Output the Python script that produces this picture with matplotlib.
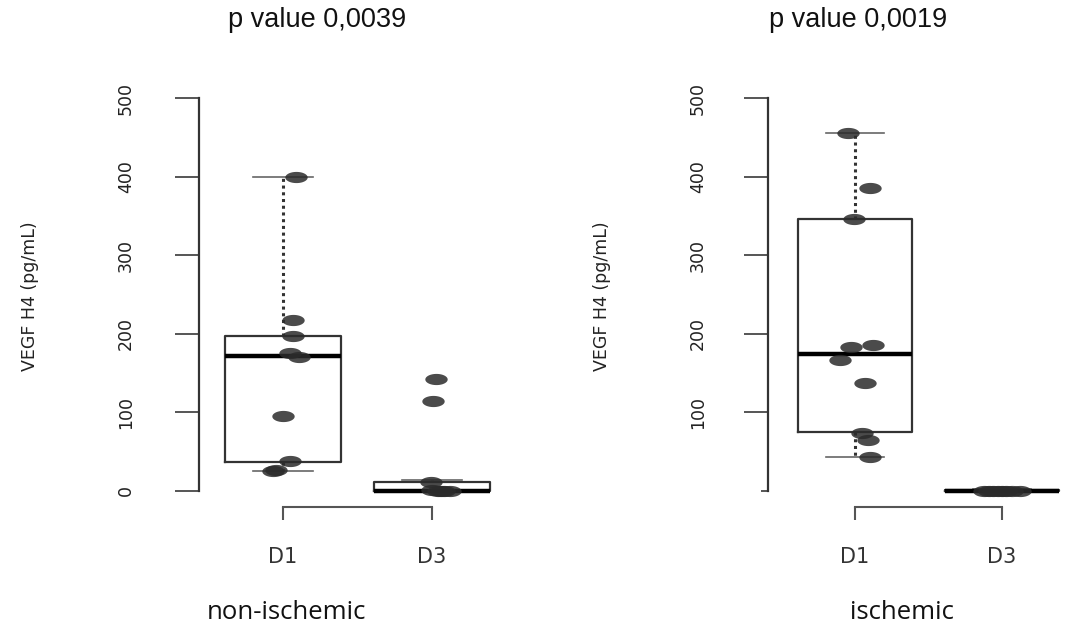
import matplotlib
matplotlib.use("Agg")
import matplotlib.pyplot as plt
import numpy as np

# ---------------- data ----------------
groups = ["D1", "D3"]
panel_titles = ["p value 0,0039", "p value 0,0019"]
panel_names = ["non-ischemic", "ischemic"]
ylabel = "VEGF H4 (pg/mL)"
yticks = [0, 100, 200, 300, 400, 500]

# box statistics: (whislo, q1, med, q3, whishi)
nonisch_d1_box = [25, 37, 172, 197, 400]
nonisch_d3_box = [0, 0, 0, 11, 14]
isch_d1_box = [43, 75, 174, 346, 455]
isch_d3_box = [0, 0, 0, 1, 2]

# individual points (value, jittered x position as drawn)
nonisch_d1_vals = [400, 217, 197, 175, 170, 95, 38, 27, 25]
nonisch_d1_x = [1.09, 1.07, 1.07, 1.05, 1.11, 1.00, 1.05, 0.95, 0.93]
nonisch_d3_vals = [143, 115, 12, 1, 0, 0, 0, 0]
nonisch_d3_x = [2.03, 2.01, 1.99, 2.00, 2.04, 2.08, 2.12, 2.06]

isch_d1_vals = [455, 385, 346, 186, 183, 167, 137, 74, 65, 43]
isch_d1_x = [0.95, 1.10, 0.99, 1.12, 0.97, 0.90, 1.07, 1.05, 1.09, 1.10]
isch_d3_vals = [0, 0, 0, 0, 0, 0, 0, 0]
isch_d3_x = [1.88, 1.91, 1.94, 1.97, 2.00, 2.03, 2.07, 2.12]

# ---------------- figure ----------------
W, H = 1065, 629
fig = plt.figure(figsize=(W / 100, H / 100), dpi=100)
fig.patch.set_facecolor("white")

def px_axes(left_px, right_px, top_px, bottom_px):
    return fig.add_axes([left_px / W, 1 - bottom_px / H,
                         (right_px - left_px) / W, (bottom_px - top_px) / H])

dark = "#333333"
grey = "#555555"

# ellipse marker (stretched like the reference)
t = np.linspace(0, 2 * np.pi, 40)
ellipse = np.column_stack([np.cos(t), 0.5 * np.sin(t)])

def stats(b, label):
    return dict(whislo=b[0], q1=b[1], med=b[2], q3=b[3], whishi=b[4],
                fliers=[], label=label)

panels = [
    dict(ax_px=(199, 518), xlim=(1 - 84 / 149, 2 + 86 / 149),
         boxes=[nonisch_d1_box, nonisch_d3_box],
         pts=[(nonisch_d1_x, nonisch_d1_vals), (nonisch_d3_x, nonisch_d3_vals)],
         show_zero=True, title_x=317, name_x=286, ylab_x=30, pad=29),
    dict(ax_px=(768, 1087), xlim=(1 - 87 / 147, 2 + 85 / 147),
         boxes=[isch_d1_box, isch_d3_box],
         pts=[(isch_d1_x, isch_d1_vals), (isch_d3_x, isch_d3_vals)],
         show_zero=False, title_x=858, name_x=902, ylab_x=602, pad=27),
]

for i, p in enumerate(panels):
    ax = px_axes(p["ax_px"][0], p["ax_px"][1], 82.3, 506.7)
    ax.set_xlim(*p["xlim"])
    ax.set_ylim(-20, 520)
    ax.patch.set_alpha(0)

    ax.bxp([stats(p["boxes"][0], groups[0]), stats(p["boxes"][1], groups[1])],
           positions=[1, 2], widths=0.78, showfliers=False,
           boxprops=dict(color=dark, linewidth=1.6),
           medianprops=dict(color="black", linewidth=3.2),
           whiskerprops=dict(color=dark, linewidth=2.2, linestyle=(0, (1, 1.2))),
           capprops=dict(color="#666666", linewidth=1.2),
           capwidths=0.4)

    for xs, vs in p["pts"]:
        ax.scatter(xs, vs, marker=ellipse, s=260, color="#2b2b2b",
                   alpha=0.85, linewidths=0, zorder=5)

    for s in ["top", "right"]:
        ax.spines[s].set_visible(False)
    ax.spines["left"].set_bounds(0, 500)
    ax.spines["left"].set_color(dark)
    ax.spines["left"].set_linewidth(1.6)
    ax.spines["bottom"].set_bounds(1, 2)
    ax.spines["bottom"].set_color(grey)
    ax.spines["bottom"].set_linewidth(1.5)

    if p["show_zero"]:
        ax.set_yticks(yticks)
        ax.set_yticklabels([str(v) for v in yticks])
    else:
        ax.set_yticks(yticks[1:])
        ax.set_yticklabels([str(v) for v in yticks[1:]])
        ax.set_yticks([0], minor=True)
        ax.tick_params(axis="y", which="minor", length=5, width=1.4,
                       color=grey)
    ax.tick_params(axis="y", which="major", length=17, width=1.4, color=grey,
                   pad=p["pad"], labelsize=12.5, labelcolor="#222222",
                   labelrotation=90)
    for lab in ax.get_yticklabels():
        lab.set_va("center")

    ax.set_xticks([1, 2])
    ax.set_xticklabels(groups)
    ax.tick_params(axis="x", length=9, width=1.5, color=grey, pad=20,
                   labelsize=15, labelcolor="#333333")

    fig.text(p["ylab_x"] / W, 1 - 296 / H, ylabel, rotation=90,
             ha="center", va="center", fontsize=12.5, color="#222222")
    fig.text(p["title_x"] / W, 1 - 20 / H, panel_titles[i],
             ha="center", va="center", fontsize=19.5,
             family="Liberation Sans", color="#111111")
    fig.text(p["name_x"] / W, 10 / H, panel_names[i],
             ha="center", va="baseline", fontsize=18.5,
             family="Open Sans", color="#111111")

fig.savefig("out.png", dpi=100)
